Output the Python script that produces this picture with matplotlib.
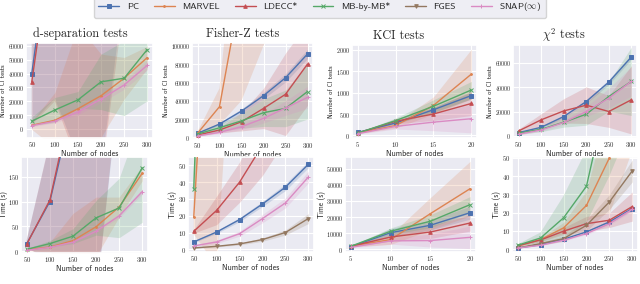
import matplotlib
matplotlib.use("Agg")
import matplotlib.pyplot as plt
import seaborn as sns
import numpy as np

# ---------------- data ----------------
series = ["PC", "MARVEL", "LDECC*", "MB-by-MB*", "FGES", "SNAP($\\infty$)"]
colors = ["#4C72B0", "#DD8452", "#C44E52", "#55A868", "#937860", "#DA8BC3"]
markers = ["s", ".", "^", "x", "v", "+"]

nodes = [50, 100, 150, 200, 250, 300]
kci_nodes = [5, 10, 15, 20]

# d-separation: number of CI tests
dsep_tests_mean = {"PC": [40000, 160000, 300000, 450000, 600000, 750000],
                   "MARVEL": [2700, 6300, 14600, 24000, 36600, 51500],
                   "LDECC*": [34000, 150000, 280000, 420000, 560000, 700000],
                   "MB-by-MB*": [5600, 13700, 21000, 34000, 36600, 57300],
                   "SNAP($\\infty$)": [2400, 5600, 12200, 21500, 31700, 45900]}
dsep_tests_sd = {"PC": [36000, 138000, 320000, 480000, 500000, 550000],
                 "MARVEL": [3000, 20000, 60000, 30000, 15000, 8000],
                 "LDECC*": [31000, 130000, 305000, 455000, 470000, 520000],
                 "MB-by-MB*": [3000, 9000, 6000, 20000, 27000, 37000],
                 "SNAP($\\infty$)": [800, 1200, 2000, 2500, 3000, 3500]}

# Fisher-Z: number of CI tests
fz_tests_mean = {"PC": [4400, 14500, 28700, 45500, 65000, 91000],
                 "MARVEL": [4400, 33500, 165000, 350000, 600000, 900000],
                 "LDECC*": [2500, 8000, 17000, 31600, 47000, 80000],
                 "MB-by-MB*": [3600, 10500, 18000, 26900, 31600, 50000],
                 "SNAP($\\infty$)": [1500, 5500, 11600, 20700, 32000, 43600]}
fz_tests_sd = {"PC": [800, 1500, 2500, 3500, 4500, 5000],
               "MARVEL": [1500, 20000, 125000, 250000, 450000, 700000],
               "LDECC*": [1000, 3000, 10000, 22000, 45000, 45000],
               "MB-by-MB*": [1500, 4000, 8000, 15000, 20000, 30000],
               "SNAP($\\infty$)": [500, 1500, 3000, 5000, 8000, 12000]}

# KCI: number of CI tests
kci_tests_mean = {"PC": [70, 290, 600, 930],
                  "MARVEL": [55, 230, 700, 1430],
                  "LDECC*": [55, 330, 500, 745],
                  "MB-by-MB*": [55, 345, 680, 1060],
                  "SNAP($\\infty$)": [40, 210, 310, 390]}
kci_tests_sd = {"PC": [10, 30, 60, 80],
                "MARVEL": [10, 60, 200, 580],
                "LDECC*": [10, 60, 150, 280],
                "MB-by-MB*": [10, 60, 150, 200],
                "SNAP($\\infty$)": [10, 60, 200, 330]}

# chi^2: number of CI tests
chi_tests_mean = {"PC": [2700, 7100, 15900, 28200, 44100, 64700],
                  "LDECC*": [4100, 13200, 20500, 25200, 20000, 29600],
                  "MB-by-MB*": [2200, 5500, 11200, 17800, 32300, 44700],
                  "SNAP($\\infty$)": [1400, 4900, 11000, 20000, 31000, 44700]}
chi_tests_sd = {"PC": [300, 600, 1000, 1500, 2000, 2000],
                "LDECC*": [1500, 5000, 10000, 15000, 13000, 28000],
                "MB-by-MB*": [1000, 2000, 4000, 9000, 12000, 28000],
                "SNAP($\\infty$)": [500, 1000, 2000, 4000, 8000, 12000]}

# d-separation: time
dsep_time_mean = {"PC": [15, 100, 300, 580, 950, 1400],
                  "MARVEL": [2.7, 8, 21, 49, 89, 157],
                  "LDECC*": [14, 103, 315, 600, 1000, 1500],
                  "MB-by-MB*": [3.4, 15, 30, 67, 87, 168],
                  "SNAP($\\infty$)": [1.4, 7.4, 18, 40, 71, 120]}
dsep_time_sd = {"PC": [8, 120, 330, 680, 620, 850],
                "MARVEL": [2, 10, 55, 60, 20, 15],
                "LDECC*": [8, 120, 350, 700, 660, 900],
                "MB-by-MB*": [2, 6, 15, 35, 60, 110],
                "SNAP($\\infty$)": [0.5, 1, 2, 3, 4, 5]}

# Fisher-Z: time
fz_time_mean = {"PC": [4.4, 10.3, 17.7, 27, 37, 50.6],
                "MARVEL": [19, 250, 600, 1200, 2000, 3000],
                "LDECC*": [10.7, 23.2, 40, 62, 90, 130],
                "MB-by-MB*": [36, 400, 900, 1600, 2500, 3500],
                "FGES": [0.8, 1.8, 3.2, 5.8, 10, 18.3],
                "SNAP($\\infty$)": [2, 4.4, 9.3, 18.3, 27.6, 43]}
fz_time_sd = {"PC": [0.5, 0.8, 1.2, 1.5, 2, 2],
              "MARVEL": [10, 260, 400, 800, 1400, 2000],
              "LDECC*": [1, 8.5, 12, 18, 25, 30],
              "MB-by-MB*": [10, 200, 500, 1000, 1500, 2000],
              "FGES": [0.2, 0.4, 0.6, 1, 1.5, 3],
              "SNAP($\\infty$)": [0.5, 1, 1.5, 2.5, 3, 3.5]}

# KCI: time
kci_time_mean = {"PC": [1650, 10300, 14900, 22700],
                 "MARVEL": [1900, 6000, 22100, 37600],
                 "LDECC*": [1900, 7600, 10700, 16300],
                 "MB-by-MB*": [1900, 11200, 17400, 27700],
                 "SNAP($\\infty$)": [1200, 5200, 5400, 7400]}
kci_time_sd = {"PC": [300, 2500, 3000, 4000],
               "MARVEL": [300, 3000, 10000, 17000],
               "LDECC*": [300, 2500, 4000, 5000],
               "MB-by-MB*": [300, 2000, 4000, 5000],
               "SNAP($\\infty$)": [300, 2000, 4000, 7000]}

# chi^2: time
chi_time_mean = {"PC": [0.7, 2.6, 5.5, 9.5, 15, 22.3],
                 "MARVEL": [1.8, 5.3, 11.7, 24, 50, 95],
                 "LDECC*": [2, 5.1, 9.9, 14, 15.9, 23.4],
                 "MB-by-MB*": [2.2, 6.2, 17.2, 34.5, 90, 150],
                 "FGES": [0.7, 3.1, 5.8, 13.1, 25.9, 42.9],
                 "SNAP($\\infty$)": [0.7, 2.2, 4.9, 8.6, 14, 21.9]}
chi_time_sd = {"PC": [0.1, 0.2, 0.4, 0.6, 0.8, 1],
               "MARVEL": [0.5, 1, 3, 8, 30, 40],
               "LDECC*": [0.5, 1, 2, 4, 4, 8],
               "MB-by-MB*": [0.5, 3, 12, 20, 50, 80],
               "FGES": [0.2, 0.8, 1.5, 3, 4, 6],
               "SNAP($\\infty$)": [0.1, 0.2, 0.4, 0.6, 0.8, 1]}

titles = ["d-separation tests", "Fisher-Z tests", "KCI tests", "$\\chi^2$ tests"]
y_top_label = "Number of CI tests"
y_bottom_label = "Time (s)"
x_label = "Number of nodes"

# ---------------- style ----------------
sns.set_theme(style="darkgrid")
plt.rcParams["mathtext.fontset"] = "cm"
plt.rcParams["axes.formatter.use_mathtext"] = True
plt.rcParams["font.family"] = ["cmss10", "DejaVu Sans"]

W, H = 640, 284
fig = plt.figure(figsize=(W / 100, H / 100), dpi=100)


def box(l, t, r, b):
    return [l / W, 1 - b / H, (r - l) / W, (b - t) / H]


panels = [
    # (box, x, means, sds, ylim, yticks, xticks, title, title_x, ylabel, ticksize)
    (box(26, 43, 153, 138), nodes, dsep_tests_mean, dsep_tests_sd, (-6500, 62000), np.arange(0, 60001, 10000), nodes, titles[0], 0.43, y_top_label, 4.2),
    (box(192, 43, 313, 139), nodes, fz_tests_mean, fz_tests_sd, (-1800, 103000), np.arange(0, 100001, 20000), nodes, titles[1], 0.417, y_top_label, 4.2),
    (box(352, 45, 477, 138), kci_nodes, kci_tests_mean, kci_tests_sd, (-60, 2110), np.arange(0, 2001, 500), kci_nodes, titles[2], 0.376, y_top_label, 4.4),
    (box(513, 45, 637, 138), nodes, chi_tests_mean, chi_tests_sd, (-1700, 74500), np.arange(0, 60001, 20000), nodes, titles[3], 0.41, y_top_label, 4.2),
    (box(21, 157, 148, 253), nodes, dsep_time_mean, dsep_time_sd, (-4, 190), [0, 50, 100, 150], nodes, None, 0, y_bottom_label, 4.5),
    (box(188, 157, 314, 252), nodes, fz_time_mean, fz_time_sd, (-1.6, 55), np.arange(0, 51, 10), nodes, None, 0, y_bottom_label, 4.8),
    (box(345, 157, 476, 252), kci_nodes, kci_time_mean, kci_time_sd, (-1700, 57300), np.arange(0, 50001, 10000), kci_nodes, None, 0, y_bottom_label, 4.4),
    (box(512, 157, 638, 252), nodes, chi_time_mean, chi_time_sd, (-1.5, 50.5), np.arange(0, 51, 10), nodes, None, 0, y_bottom_label, 4.8),
]

handles = {}
for (rect, xs, means, sds, ylim, yticks, xticks, title, tx, ylabel, tsize) in panels:
    ax = fig.add_axes(rect)
    x = np.array(xs, dtype=float)
    for name, col, mk in zip(series, colors, markers):
        if name not in means:
            continue
        m = np.array(means[name], dtype=float)
        s = np.array(sds[name], dtype=float)
        ax.fill_between(x, m - s, m + s, color=col, alpha=0.2, linewidth=0, zorder=1)
        ln, = ax.plot(x, m, color=col, marker=mk, markersize=2.6, linewidth=1.0,
                      markeredgewidth=0.7, zorder=3, label=name)
        handles[name] = ln
    span = x[-1] - x[0]
    ax.set_xlim(x[0] - 0.05 * span, x[-1] + 0.05 * span)
    ax.set_ylim(*ylim)
    ax.set_xticks(xticks)
    ax.set_yticks(yticks)
    ax.tick_params(axis="x", labelsize=4.8, pad=1.5, length=0)
    ax.tick_params(axis="y", labelsize=tsize, pad=1.3, length=0)
    for lab in ax.get_xticklabels() + ax.get_yticklabels():
        lab.set_family("cmr10")
    ax.set_xlabel(x_label, fontsize=5.8, labelpad=1)
    if ylabel == y_top_label:
        ax.set_ylabel(ylabel, fontsize=4.8, labelpad=1.5)
    else:
        ax.set_ylabel(ylabel, fontsize=5.3, labelpad=0.4)
    ax.grid(True, color="white", linewidth=0.8)
    if title is not None:
        ax.set_title(title, fontsize=8.8, family="cmr10", x=tx, pad=4)

leg = fig.legend([handles[n] for n in series], series, loc="upper center",
                 bbox_to_anchor=(0.5, 1.03), ncol=6, fontsize=6.8, frameon=True,
                 handlelength=2.2, columnspacing=1.6, borderpad=0.45)
leg.get_frame().set_facecolor("#EAEAF2")
leg.get_frame().set_edgecolor("#cccccc")

fig.savefig("out.png", dpi=100)
